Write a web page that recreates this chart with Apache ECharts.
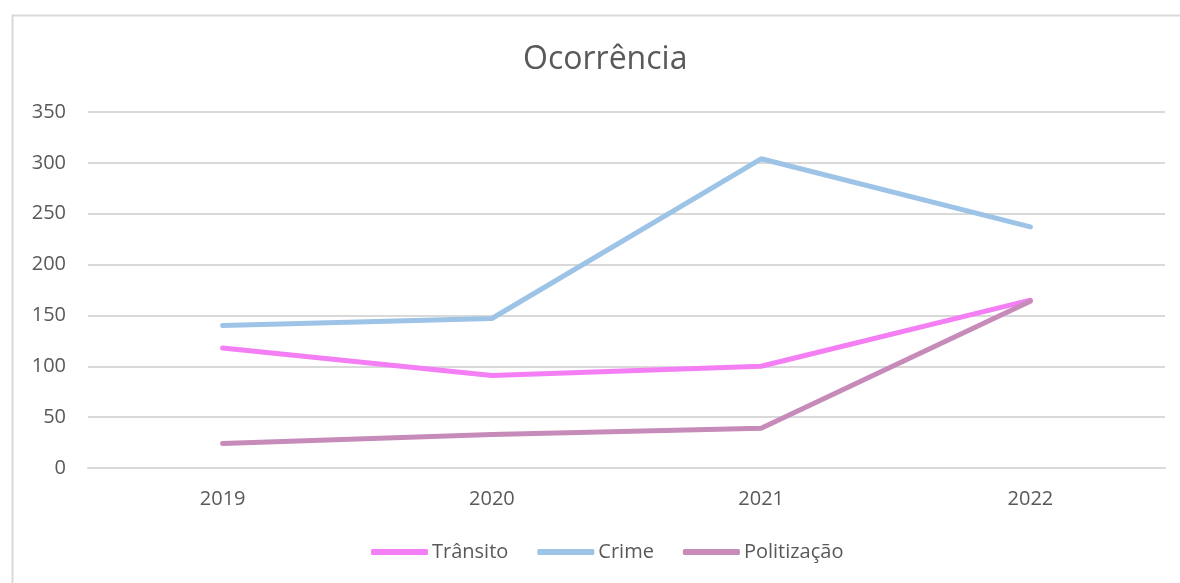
<!DOCTYPE html>
<html>
<head>
<meta charset="utf-8">
<script src="https://cdn.jsdelivr.net/npm/echarts@6/dist/echarts.min.js"></script>
<style>html,body{margin:0;padding:0;background:#fff}#c{width:1180px;height:583px}</style>
</head>
<body>
<div id="c"></div>
<script>
const categories = ['2019', '2020', '2021', '2022'];
const transito = [118, 91, 100, 165];
const crime = [140, 147, 304, 237];
const politizacao = [24, 33, 39, 164];
const seriesNames = ['Trânsito', 'Crime', 'Politização'];
const colors = ['#F47EF4', '#9DC3E6', '#C68BB9'];
const FONT = '"Open Sans", "Noto Sans", sans-serif';

const chart = echarts.init(document.getElementById('c'), null, {renderer: 'canvas'});
const mk = (name, data, color) => ({
  name, type: 'line', data, symbol: 'none', smooth: false,
  lineStyle: {color, width: 5, cap: 'round', join: 'round'},
  itemStyle: {color}
});
chart.setOption({
  animation: false,
  backgroundColor: '#fff',
  graphic: [{type: 'rect', left: 10, top: 13, shape: {width: 1200, height: 620}, style: {fill: 'none', stroke: '#D9D9D9', lineWidth: 2}, silent: true, z: -1}],
  title: {text: 'Ocorrência', left: 518, top: 39, textStyle: {fontFamily: FONT, fontSize: 32, fontWeight: 'normal', color: '#595959'}},
  grid: {left: 88, right: 15, top: 112, bottom: 115},
  legend: {
    data: seriesNames, bottom: 16, left: 366, icon: 'roundRect', itemWidth: 57, itemHeight: 6, itemGap: 29,
    textStyle: {fontFamily: FONT, fontSize: 20, color: '#595959', padding: [0, 0, 0, -1]}
  },
  xAxis: {
    type: 'category', data: categories, boundaryGap: true,
    axisLine: {lineStyle: {color: '#D9D9D9', width: 2}}, axisTick: {show: false},
    axisLabel: {fontFamily: FONT, fontSize: 20, color: '#595959', margin: 21}
  },
  yAxis: {
    type: 'value', min: 0, max: 350, interval: 50,
    axisLine: {show: false}, axisTick: {show: false},
    splitLine: {lineStyle: {color: '#D9D9D9', width: 2}},
    axisLabel: {fontFamily: FONT, fontSize: 20, color: '#595959', margin: 22}
  },
  series: [mk(seriesNames[0], transito, colors[0]), mk(seriesNames[1], crime, colors[1]), mk(seriesNames[2], politizacao, colors[2])]
});
</script>
</body>
</html>
